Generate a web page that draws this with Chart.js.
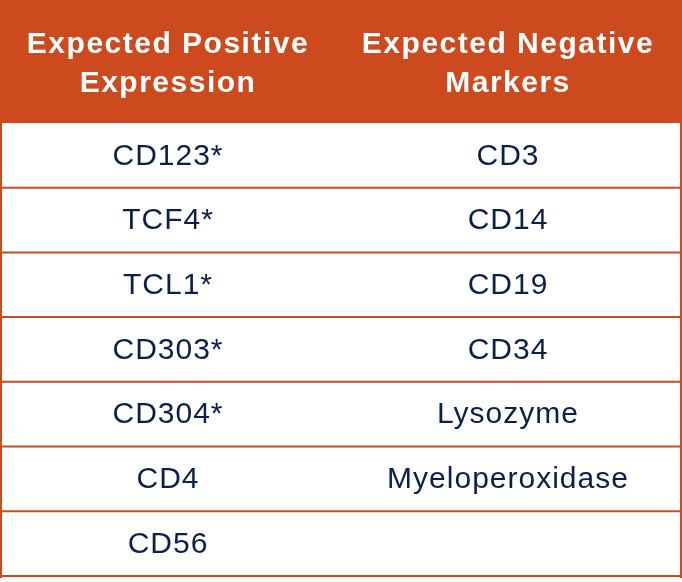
<!DOCTYPE html>
<html><head><meta charset="utf-8">
<script src="https://cdn.jsdelivr.net/npm/chart.js@4"></script>
<style>html,body{margin:0;padding:0;background:#fff}#wrap{width:682px;height:582px}</style>
</head><body><div id="wrap"><canvas id="c" width="682" height="582"></canvas></div>
<script>
const headers = [["Expected Positive", "Expression"], ["Expected Negative", "Markers"]];
const positiveMarkers = ["CD123*", "TCF4*", "TCL1*", "CD303*", "CD304*", "CD4", "CD56"];
const negativeMarkers = ["CD3", "CD14", "CD19", "CD34", "Lysozyme", "Myeloperoxidase", ""];
const rowIndex = positiveMarkers.map((_, i) => i);

const orange = "#CC4A1E", navy = "#0B1F4D";
const tablePlugin = {
  id: "table",
  afterDraw(chart) {
    const ctx = chart.ctx, W = 682, headH = 123, rowH = 64.7;
    ctx.save();
    ctx.fillStyle = "#fff"; ctx.fillRect(0, 0, W, 582);
    ctx.fillStyle = orange; ctx.fillRect(0, 0, W, headH);
    ctx.textAlign = "center"; ctx.textBaseline = "middle";
    ctx.fillStyle = "#fff"; ctx.font = "bold 30px 'Liberation Sans', Arial, sans-serif";
    ctx.letterSpacing = "1.5px";
    const cx = [168, 508];
    headers.forEach((h, c) => { ctx.fillText(h[0], cx[c], 45); ctx.fillText(h[1], cx[c], 84); });
    ctx.font = "30px 'Liberation Sans', Arial, sans-serif";
    ctx.letterSpacing = "1px";
    rowIndex.forEach(i => {
      const y0 = headH + i * rowH;
      ctx.fillStyle = navy;
      ctx.fillText(positiveMarkers[i], cx[0], y0 + rowH / 2 + 1);
      ctx.fillText(negativeMarkers[i], cx[1], y0 + rowH / 2 + 1);
      ctx.strokeStyle = orange; ctx.lineWidth = 2;
      ctx.beginPath(); ctx.moveTo(0, y0 + rowH); ctx.lineTo(W, y0 + rowH); ctx.stroke();
    });
    ctx.fillStyle = orange;
    ctx.fillRect(0, headH, 2, 582 - headH - 4);
    ctx.fillRect(W - 2, headH, 2, 582 - headH - 4);
    ctx.restore();
  }
};
new Chart(document.getElementById("c"), {
  type: "bar",
  data: { labels: rowIndex.map(String), datasets: [{ data: rowIndex.map(() => 0) }] },
  options: { responsive: false, animation: false, events: [],
    plugins: { legend: { display: false }, tooltip: { enabled: false } },
    scales: { x: { display: false }, y: { display: false } } },
  plugins: [tablePlugin]
});
</script></body></html>
